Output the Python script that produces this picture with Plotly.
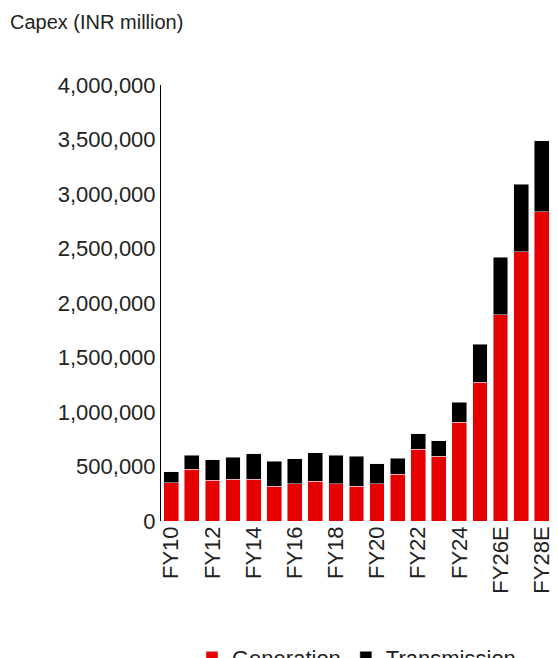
import plotly.graph_objects as go

years = ["FY10","FY11","FY12","FY13","FY14","FY15","FY16","FY17","FY18","FY19","FY20",
         "FY21","FY22","FY23","FY24","FY25","FY26E","FY27E","FY28E"]
generation = [350000,477000,376000,385000,385000,320000,340000,367000,340000,320000,340000,
              430000,660000,596000,908000,1275000,1890000,2470000,2835000]
transmission = [100000,128000,184000,202000,230000,230000,230000,257000,265000,276000,183000,
                148000,140000,138000,182000,345000,530000,620000,655000]
tick_labels = ["FY10","FY12","FY14","FY16","FY18","FY20","FY22","FY24","FY26E","FY28E"]

fig = go.Figure()
fig.add_bar(x=years, y=generation, name="Generation", marker_color="#e60000")
fig.add_bar(x=years, y=transmission, name="Transmission", marker_color="#000000")
fig.update_layout(
    barmode="stack", bargap=0.28, width=558, height=658,
    plot_bgcolor="white", paper_bgcolor="white",
    font=dict(family="Liberation Sans, Arial, sans-serif", size=22, color="#222"),
    margin=dict(l=153, r=14, t=77, b=145, autoexpand=False),
    legend=dict(orientation="h", x=0.5, xanchor="center", y=-0.265, yanchor="top",
                traceorder="normal", font=dict(size=22), itemwidth=30),
    annotations=[dict(text="Capex (INR million)", x=0, y=1, xref="paper", yref="paper",
                      xshift=-153, yshift=50, showarrow=False, xanchor="left",
                      yanchor="bottom", font=dict(size=20))],
)
fig.update_yaxes(range=[0, 4000000], dtick=500000, tickformat=",", showgrid=False,
                 showline=True, linecolor="#000", linewidth=1, ticks="", automargin=False)
fig.update_xaxes(tickmode="array", tickvals=tick_labels, ticktext=tick_labels,
                 tickangle=-90, showline=False, ticks="", automargin=False)
fig.write_html("out.html")
